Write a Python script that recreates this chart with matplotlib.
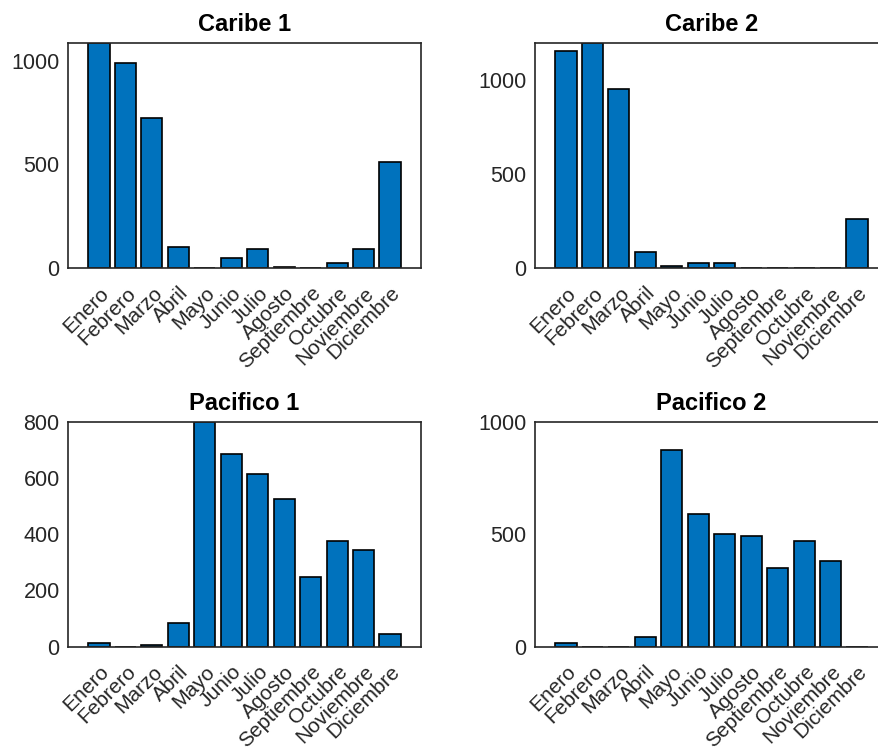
import numpy as np
import matplotlib
matplotlib.use("Agg")
import matplotlib.pyplot as plt
from matplotlib.transforms import ScaledTranslation

meses = ["Enero", "Febrero", "Marzo", "Abril", "Mayo", "Junio", "Julio",
         "Agosto", "Septiembre", "Octubre", "Noviembre", "Diciembre"]

caribe1 = [1085, 987, 723, 103, 0, 50, 93, 6, 0, 23, 93, 513]
caribe2 = [1154, 1195, 952, 85, 8, 27, 27, 0, 0, 0, 0, 258]
pacifico1 = [13, 0, 6, 84, 800, 685, 613, 525, 247, 376, 343, 45]
pacifico2 = [16, 0, 0, 42, 873, 590, 501, 493, 348, 470, 381, 0]

titulos = ["Caribe 1", "Caribe 2", "Pacifico 1", "Pacifico 2"]
series = [caribe1, caribe2, pacifico1, pacifico2]
ylims = [1085, 1195, 800, 1000]
yticks = [[0, 500, 1000], [0, 500, 1000], [0, 200, 400, 600, 800], [0, 500, 1000]]

plt.rcParams['font.family'] = ['Liberation Sans', 'DejaVu Sans']

gris = '#262626'
azul = '#0072BD'

fig = plt.figure(figsize=(8.79, 7.51), dpi=100)

# posiciones en pixeles (izq, arriba) de cada panel, ancho 353 alto 225
pos = [(68, 43), (535, 43), (68, 421.7), (535, 421.7)]
W, H = 879, 751
desplaza = ScaledTranslation(7 / 100, 0, fig.dpi_scale_trans)

x = np.arange(len(meses))
for (px, py), tit, vals, ym, yt in zip(pos, titulos, series, ylims, yticks):
    ax = fig.add_axes([px / W, 1 - (py + 225) / H, 353 / W, 225 / H])
    ax.bar(x, vals, width=0.8, color=azul, edgecolor='black', linewidth=1.2)
    ax.set_xlim(-1.17, 11 + 1.17)
    ax.set_ylim(0, ym)
    ax.set_yticks(yt)
    ax.set_xticks(x)
    ax.tick_params(axis='y', labelsize=15.5, labelcolor=gris, length=0, pad=6)
    ax.tick_params(axis='x', length=0, pad=16)
    ax.set_xticklabels(meses, rotation=45, ha='right', va='center',
                       rotation_mode='anchor', fontsize=15, color=gris)
    # tick_params reinicia la transformada, por eso va despues
    for lbl in ax.get_xticklabels():
        lbl.set_transform(lbl.get_transform() + desplaza)
    for s in ax.spines.values():
        s.set_color(gris)
        s.set_linewidth(1.2)
    ax.set_title(tit, fontsize=17, fontweight='bold', color='black', pad=8.5)

fig.savefig('out.png', dpi=100)
